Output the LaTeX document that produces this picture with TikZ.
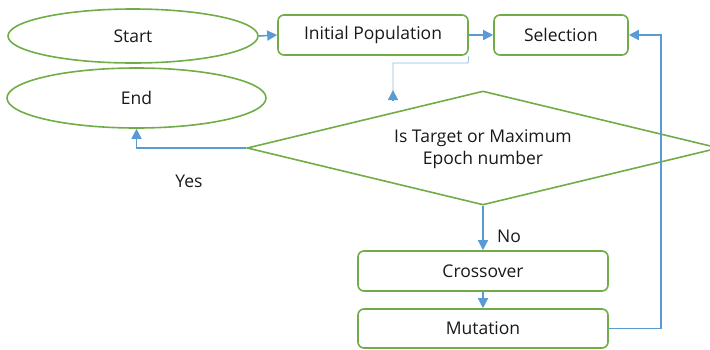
\documentclass[tikz,border=0pt]{standalone}
\usepackage{fontspec}
\setmainfont{Open Sans}
\usetikzlibrary{shapes.geometric,arrows.meta}
\definecolor{gr}{HTML}{70AD47}
\definecolor{bl}{HTML}{5B9BD5}
\begin{document}
\begin{tikzpicture}[x=1pt,y=-1pt,
  every node/.style={font=\fontsize{17.5}{22}\selectfont, text=black!90},
  term/.style={ellipse, draw=gr, line width=1.6pt, inner sep=0pt},
  proc/.style={rectangle, rounded corners=6pt, draw=gr, line width=1.6pt, inner sep=0pt},
  dec/.style={diamond, draw=gr, line width=1.6pt, inner sep=0pt},
  conn/.style={draw=bl, line width=1.6pt, -{Triangle[length=10pt,width=10pt]}},
  lbl/.style={inner sep=0pt, align=center}]
\useasboundingbox (0,0) rectangle (710,349);
\clip (0,0) rectangle (710,349);
\node[term, minimum width=250pt, minimum height=54pt] (start) at (133,36) {Start};
\node[term, minimum width=259pt, minimum height=60pt] (endn) at (136.5,98) {End};
\node[proc, minimum width=190pt, minimum height=40pt] (init) at (373,35) {Initial Population};
\node[proc, minimum width=134pt, minimum height=40pt] (sel) at (561,35) {Selection};
\node[dec, minimum width=472pt, minimum height=114pt] (decn) at (483,148) {};
\node[lbl] (dect) at (483,149) {Is Target or Maximum\\Epoch number};
\node[proc, minimum width=250pt, minimum height=40pt] (cross) at (483,271) {Crossover};
\node[proc, minimum width=250pt, minimum height=39pt] (mut) at (483,328.5) {Mutation};
\coordinate (pend) at (393,90);
\coordinate (bend) at (468,63);
\draw[conn] (start.east) -- (init.west);
\draw[conn] (init.east) -- (sel.west);
\draw[draw=bl!70, line width=0.8pt] (init.south east) -- (bend) -| ([yshift=-10pt]pend);
\draw[conn] ([yshift=-11pt]pend) -- (pend);
\draw[conn] (decn.west) -| (endn.south);
\draw[conn] (decn.south) -- (cross.north);
\draw[conn] (cross.south) -- (mut.north);
\draw[conn] (mut.east) -- (661,328.5) |- (sel.east);
\node[lbl] (yes) at (189,181) {Yes};
\node[lbl] (no) at (509,236) {No};
\end{tikzpicture}
\end{document}
